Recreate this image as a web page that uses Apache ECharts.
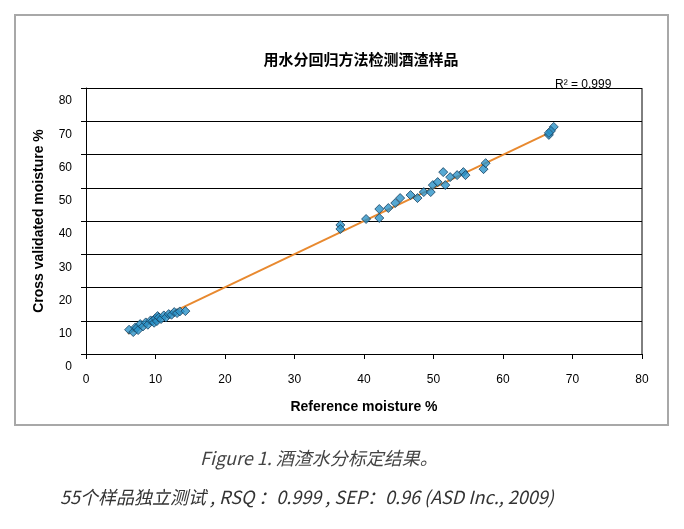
<!DOCTYPE html>
<html><head><meta charset="utf-8">
<script src="https://cdn.jsdelivr.net/npm/echarts@6/dist/echarts.min.js"></script>
<style>html,body{margin:0;background:#fff}#c{width:684px;height:529px}</style>
</head><body><div id="c"></div>
<script>
// samples: [reference, cross validated]
const samples = [
  [6.2,7.3],[6.8,6.6],[7.1,8.0],[7.3,7.8],[7.5,7.2],[7.8,9.0],[8.2,8.3],[8.6,9.5],[8.9,8.8],
  [9.3,10.1],[9.6,10.0],[9.8,9.4],[10.0,10.7],[10.2,9.9],[10.3,11.4],[10.5,11.0],[10.8,10.5],
  [11.2,11.6],[11.5,11.0],[11.9,12.0],[12.3,11.8],[12.7,12.6],[13.1,12.3],[13.5,12.8],[14.3,12.9],
  [36.6,38.8],[36.6,37.6],[40.3,40.6],[42.2,43.6],[42.2,40.9],[43.5,43.9],[44.5,45.4],[45.2,46.9],
  [46.7,47.8],[47.7,46.9],[48.6,48.7],[49.9,50.8],[49.6,48.7],[50.6,51.7],[51.4,54.7],[51.7,50.8],
  [52.4,53.2],[53.4,53.8],[54.3,54.7],[54.6,53.8],[57.2,55.6],[57.5,57.4],
  [66.6,65.9],[67.3,68.3],[66.9,67.1],[66.6,66.5]
];
const trend = [[6, 6.1], [67, 66.9]];
const xTicks = [0, 10, 20, 30, 40, 50, 60, 70, 80];

const chart = echarts.init(document.getElementById('c'));
chart.setOption({
  animation: false,
  title: { text: '用水分回归方法检测酒渣样品', left: 356, top: 47, textAlign: 'center',
    textStyle: { fontFamily: 'Noto Sans CJK SC', fontSize: 15, fontWeight: 'bold', color: '#000' } },
  grid: { left: 86, right: 42, top: 88, bottom: 175 },
  xAxis: { type: 'value', min: 0, max: 80, interval: 10,
    name: 'Reference moisture %', nameLocation: 'middle', nameGap: 46,
    nameTextStyle: { fontFamily: 'Liberation Sans', fontWeight: 'bold', fontSize: 14, color: '#000' },
    axisLine: { lineStyle: { color: '#000' } }, axisTick: { show: true, length: 5, lineStyle: { color: '#000' } },
    axisLabel: { margin: 20, fontFamily: 'Liberation Sans', fontSize: 12, color: '#000',
      formatter: v => xTicks.includes(v) ? String(v) : '' },
    splitLine: { show: false } },
  yAxis: { type: 'value', min: 0, max: 80, interval: 10,
    name: 'Cross validated moisture %', nameLocation: 'middle', nameGap: 40,
    nameTextStyle: { fontFamily: 'Liberation Sans', fontWeight: 'bold', fontSize: 14, color: '#000' },
    axisLine: { show: true, lineStyle: { color: '#000' } }, axisTick: { show: true, length: 5, lineStyle: { color: '#000' } },
    axisLabel: { margin: 14, fontFamily: 'Liberation Sans', fontSize: 12, color: '#000', verticalAlign: 'top', padding: [7, 0, 0, 0] },
    splitLine: { lineStyle: { color: '#000', width: 1 } } },
  graphic: [
    { type: 'rect', shape: { x: 15, y: 15, width: 653, height: 410 }, style: { fill: 'none', stroke: '#a8a8a8', lineWidth: 2 } },
    { type: 'line', shape: { x1: 642, y1: 88, x2: 642, y2: 354 }, style: { stroke: '#000', lineWidth: 1 } },
    { type: 'text', left: 555, top: 79, style: { text: 'R² = 0.999', font: '12px Liberation Sans', fill: '#000' } },
    { type: 'text', left: 200, top: 449, style: { text: 'Figure 1. 酒渣水分标定结果。', font: 'italic 18px "Noto Sans CJK SC"', fill: '#444' } },
    { type: 'text', left: 60, top: 488, style: { text: '55个样品独立测试 , RSQ ：0.999 , SEP：0.96 (ASD Inc., 2009)', font: 'italic 18px "Noto Sans CJK SC"', fill: '#333' } }
  ],
  series: [
    { type: 'line', data: trend, symbol: 'none', lineStyle: { color: '#e8892f', width: 2 }, z: 1 },
    { type: 'scatter', data: samples, symbol: 'diamond', symbolSize: 9, z: 2,
      itemStyle: { color: '#2a92c8', borderColor: '#17405e', borderWidth: 1 } }
  ]
});
</script></body></html>
